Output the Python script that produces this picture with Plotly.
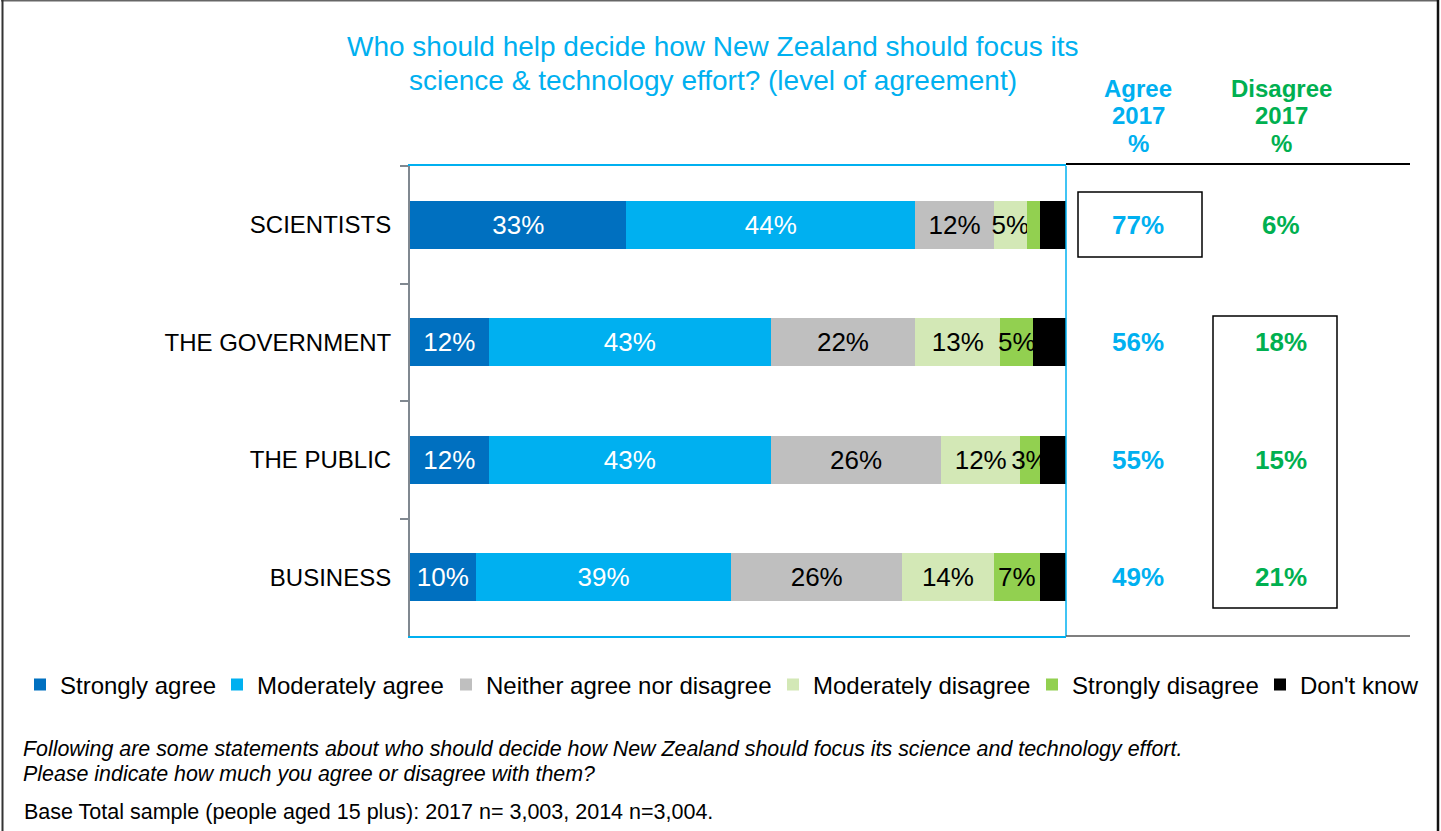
import plotly.graph_objects as go

# Survey categories (top to bottom)
categories = ["SCIENTISTS", "THE GOVERNMENT", "THE PUBLIC", "BUSINESS"]

# Response shares (%) per category
strongly_agree = [33, 12, 12, 10]
moderately_agree = [44, 43, 43, 39]
neither = [12, 22, 26, 26]
moderately_disagree = [5, 13, 12, 14]
strongly_disagree = [2, 5, 3, 7]
dont_know = [4, 5, 4, 4]

# Which segments carry a value label
show_label_sd = [False, True, True, True]

# Summary columns
agree_2017 = [77, 56, 55, 49]
disagree_2017 = [6, 18, 15, 21]

FONT = "Liberation Sans, Arial, sans-serif"
BLUE = "#00B0F0"
GREEN = "#00B050"

W, H = 1441, 831
L, R, T, B = 410, 1066, 166, 636


def px(x):
    return (x - L) / (R - L)


def py(y):
    return (B - y) / (B - T)


# name, values, fill, label colour, label mask, legend text start (px)
series = [
    ("Strongly agree", strongly_agree, "#0070C0", "white", None, 60),
    ("Moderately agree", moderately_agree, "#00B0F0", "white", None, 257),
    ("Neither agree nor disagree", neither, "#BFBFBF", "black", None, 486),
    ("Moderately disagree", moderately_disagree, "#D3E8B6", "black", None, 813),
    ("Strongly disagree", strongly_disagree, "#92D050", "black", show_label_sd, 1072),
    ("Don't know", dont_know, "#000000", "black", [False] * 4, 1300),
]

fig = go.Figure()
legends = {}
for i, (name, vals, color, tcolor, mask, lx) in enumerate(series):
    if mask is None:
        mask = [True] * len(vals)
    texts = [f"{v}%" if m else "" for v, m in zip(vals, mask)]
    lname = "legend" if i == 0 else f"legend{i + 1}"
    fig.add_trace(go.Bar(
        name=name, y=categories, x=vals, orientation="h",
        marker=dict(color=color, line=dict(width=0)),
        text=texts, textposition="inside", insidetextanchor="middle", textangle=0,
        textfont=dict(color=tcolor, size=26, family=FONT),
        hoverinfo="skip", legend=lname,
    ))
    legends[lname] = dict(orientation="h", x=px(lx - 40), y=py(685), xanchor="left", yanchor="middle",
                          font=dict(family=FONT, size=24, color="black"),
                          bgcolor="rgba(0,0,0,0)", itemclick=False, itemdoubleclick=False)

shapes = []
# right edge of the plot frame
shapes.append(dict(type="line", xref="paper", yref="paper", x0=1, x1=1, y0=0, y1=1,
                   line=dict(color=BLUE, width=1.5)))
# table rules
shapes.append(dict(type="line", xref="paper", yref="paper", x0=1, x1=px(1410),
                   y0=py(164), y1=py(164), line=dict(color="black", width=2)))
shapes.append(dict(type="line", xref="paper", yref="paper", x0=1, x1=px(1410),
                   y0=py(636), y1=py(636), line=dict(color="#555555", width=1.5)))
# highlight boxes
shapes.append(dict(type="rect", xref="paper", yref="paper", x0=px(1078), x1=px(1202),
                   y0=py(257), y1=py(192), line=dict(color="black", width=1.5)))
shapes.append(dict(type="rect", xref="paper", yref="paper", x0=px(1213), x1=px(1337),
                   y0=py(608), y1=py(316), line=dict(color="black", width=1.5)))
# outer frame
shapes.append(dict(type="line", xref="paper", yref="paper", x0=px(1), x1=px(1439),
                   y0=py(0.5), y1=py(0.5), line=dict(color="#666666", width=2)))
shapes.append(dict(type="line", xref="paper", yref="paper", x0=px(2.5), x1=px(2.5),
                   y0=py(0), y1=py(840), line=dict(color="#333333", width=2)))
shapes.append(dict(type="line", xref="paper", yref="paper", x0=px(1438), x1=px(1438),
                   y0=py(0), y1=py(840), line=dict(color="#111111", width=2.5)))


def note(x, y, text, size, color, anchor="center", bold=False, italic=False):
    if bold:
        text = f"<b>{text}</b>"
    if italic:
        text = f"<i>{text}</i>"
    return dict(xref="paper", yref="paper", x=px(x), y=py(y), xanchor=anchor, yanchor="middle",
                text=text, showarrow=False, font=dict(family=FONT, size=size, color=color))


ann = []
ann.append(note(713, 47, "Who should help decide how New Zealand should focus its", 28, BLUE))
ann.append(note(713, 80, "science & technology effort? (level of agreement)", 28, BLUE))
for k, line in enumerate(["Agree", "2017", "%"]):
    ann.append(note(1138, 88 + 27.5 * k, line, 24, BLUE, bold=True))
for k, line in enumerate(["Disagree", "2017", "%"]):
    ann.append(note(1281, 88 + 27.5 * k, line, 24, GREEN, bold=True))
for cat, a, d in zip(categories, agree_2017, disagree_2017):
    ann.append(dict(xref="paper", yref="y", x=px(1138), y=cat, xanchor="center", yanchor="middle",
                    text=f"<b>{a}%</b>", showarrow=False, font=dict(family=FONT, size=26, color=BLUE)))
    ann.append(dict(xref="paper", yref="y", x=px(1281), y=cat, xanchor="center", yanchor="middle",
                    text=f"<b>{d}%</b>", showarrow=False, font=dict(family=FONT, size=26, color=GREEN)))

ann.append(note(21, 749, "Following are some statements about who should decide how New Zealand "
                         "should focus its science and technology effort.", 21.4, "black", anchor="left",
                italic=True))
ann.append(note(21, 774, "Please indicate how much you agree or disagree with them?", 21.4, "black",
                anchor="left", italic=True))
ann.append(note(22, 812, "Base Total sample (people aged 15 plus): 2017 n= 3,003, 2014 n=3,004.", 21.5,
                "black", anchor="left"))

fig.update_layout(
    width=W, height=H,
    margin=dict(l=L, r=W - R, t=T, b=H - B),
    paper_bgcolor="white", plot_bgcolor="white",
    barmode="stack", bargap=0.59,
    uniformtext=dict(minsize=26, mode="show"),
    font=dict(family=FONT, color="black"),
    showlegend=True,
    xaxis=dict(range=[0, 100], showticklabels=False, showgrid=False, zeroline=False,
               showline=True, mirror=True, linecolor=BLUE, linewidth=1.5, fixedrange=True),
    yaxis=dict(type="category", categoryorder="array", categoryarray=categories,
               range=[3.5, -0.5], showgrid=False, zeroline=False,
               showline=True, linecolor="#808890", linewidth=2,
               ticks="outside", tickson="boundaries", ticklen=8, tickcolor="#808890", tickwidth=2,
               tickfont=dict(family=FONT, size=24, color="black"), ticklabelstandoff=12,
               fixedrange=True),
    shapes=shapes, annotations=ann,
    **legends,
)

fig.write_html("out.html")
